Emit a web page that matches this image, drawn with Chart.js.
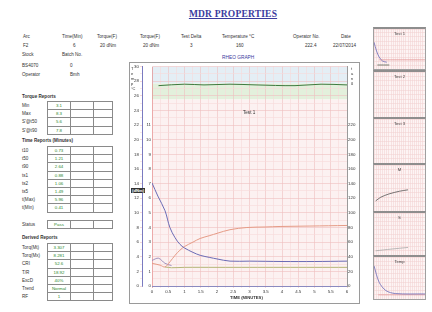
<!DOCTYPE html>
<html><head><meta charset="utf-8">
<script src="https://cdn.jsdelivr.net/npm/chart.js@4/dist/chart.umd.min.js"></script>
<style>
html,body{margin:0;padding:0;background:#fff;width:432px;height:312px;overflow:hidden;font-family:"Liberation Sans",Arial,sans-serif;}
.a{position:absolute;white-space:nowrap;font-size:4.6px;color:#333;line-height:5px;}
.b{font-weight:bold;}
.title{position:absolute;left:163px;top:9px;width:140px;white-space:nowrap;text-align:center;font-family:"Liberation Serif",serif;font-size:9.5px;font-weight:bold;color:#3b3b9e;text-decoration:underline;letter-spacing:0.2px;}
table.t{position:absolute;left:47px;border-collapse:collapse;width:66px;}
table.t td{border:0.8px solid #8a8a8a;height:7.2px;padding:0;font-size:4.4px;text-align:center;color:#2e8a2e;line-height:5px;}
.frame{position:absolute;border:1px solid #9a9a9a;}
.mini{position:absolute;left:373px;width:51px;border:1px solid #a0a0a0;border-top:2.5px solid #8e8e8e;}
.mini canvas{position:absolute;left:0;top:0;}
.mt{position:absolute;left:0;width:51px;top:2px;text-align:center;font-size:4.2px;color:#444;}
</style></head><body>
<div class="title">MDR PROPERTIES</div>
<div id="hdr"></div>
<div id="left"></div>
<div class="frame" style="left:129px;top:62px;width:229px;height:240px;"></div>
<div style="position:absolute;left:130px;top:63px;width:228px;height:238px;"><canvas id="main" width="228" height="238"></canvas></div>
<div class="a" style="left:222px;top:55px;color:#3b3b9e;font-size:4.8px;">RHEO GRAPH</div>
<div class="a" style="left:131px;top:66px;width:4px;white-space:normal;line-height:5px;font-size:4px;">T e m p °C</div>
<div class="a" style="left:351px;top:66px;width:4px;white-space:normal;line-height:5px;font-size:4px;">t a n δ</div>
<div class="a" style="left:243px;top:110px;font-size:4.6px;">Test 1</div>
<div class="a b" style="left:131px;top:188px;background:#333;color:#fff;font-size:4.2px;padding:0 1px;">(dNm)</div>
<div class="a b" style="left:230px;top:295px;font-size:4.2px;">TIME (MINUTES)</div>
<div id="minis"></div>
<script>
// ---------- DATA ----------
const headerLabels = ["Arc","Time(Min)","Torque(F)","Torque(F)","Test Delta","Temperature °C","Operator No.","Date"];
const headerValues = ["F2","6","20 dNm","20 dNm","3","160","222.4","22/07/2014"];
const infoLabels = ["Stock","Batch No."];
const stockInfo = [["BS4070","0"],["Operator","Bmh"]];
const torqueLabels = ["Min","Max","S'@t50","S'@t90"];
const torqueValues = ["3.1","8.3","5.6","7.8"];
const timeLabels = ["t10","t50","t90","ts1","ts2","ts5","t(Max)","t(Min)"];
const timeValues = ["0.73","1.21","2.64","0.88","1.06","1.49","5.96","0.41"];
const statusLabel = "Status";
const statusValue = "Pass";
const derivedLabels = ["Torq(Mt)","Torq(Mx)","CRI","T/R","ExcD","Trend","RF"];
const derivedValues = ["3.307","8.281","52.6","18.92","40%","Normal","1"];

const xTickLabels = ["0","0.5","1","1.5","2","2.5","3","3.5","4","4.5","5","5.5","6"];
const innerTickLabels = ["0","2","4","6","8","10","12","14","16","18","20","22","24","26","28","30"];
const outerTickLabels = ["0","1","2","3","4","5","6","7","8","9","10","11"];
const rightTickLabels = ["0","20","40","60","80","100","120","140","160","180","200","220"];

const blueTime   = [0,0.18,0.4,0.55,0.71,0.86,1.0,1.26,1.48,1.78,2.0,2.4,3.0,4.0,5.0,6.0];
const blueTorque = [14.1,12.3,10.3,8.0,6.6,5.7,5.2,4.6,4.2,3.9,3.7,3.4,3.4,3.35,3.35,3.4];
const redTime    = [0,0.25,0.4,0.55,0.71,0.86,1.0,1.26,1.48,1.78,2.0,2.4,2.92,3.48,3.94,4.86,6.0];
const redTorque  = [3.1,2.85,2.6,3.3,4.2,4.9,5.4,6.0,6.5,6.9,7.2,7.7,8.0,8.07,8.14,8.2,8.28];
const violetTime = [0,0.2,0.4,0.6];
const violetVal  = [3.5,3.8,3.1,2.8];
const oliveTime  = [0.4,0.6,1.0,2.0,3.0,4.0,5.0,6.0];
const oliveVal   = [2.6,2.5,2.55,2.55,2.55,2.55,2.55,2.55];
const tempTime   = [0.2,1.0,1.6,2.4,3.2,4.4,5.2,6.0];
const tempVal    = [27.4,27.6,27.5,27.6,27.5,27.4,27.6,27.5];

const miniTitles = ["Test 1","Test 2","Test 3","M","S","Temp"];
const miniSeries = [
  [{t:[0,0.3,0.6,1.0,1.5],v:[6.7,4.5,3.0,2.0,1.7],c:"#6a6ab8"},{t:[0.6,6],v:[2.3,2.3],c:"#e49a9a"},{t:[0.4,1.8],v:[1.0,1.0],c:"#556655"}],
  [],
  [],
  [{t:[0.2,0.8,1.75,3.0,4.0],v:[2.2,3.0,3.7,4.3,4.6],c:"#555"}],
  [{t:[0.2,2.0,4.0],v:[1.0,1.4,1.8],c:"#aaa"}],
  [{t:[0,0.6,1.4,2.5,6],v:[7.9,4.0,2.0,1.3,1.2],c:"#6a6ab8"},{t:[0.5,6],v:[1.0,1.0],c:"#e49a9a"}]
];

// ---------- LAYOUT (HTML text) ----------
const hx = [23,62,97,140,181,222,293,341];
let h = "";
headerLabels.forEach((l,i)=>{ h += `<div class="a" style="left:${hx[i]}px;top:34px;">${l}</div>`; });
const vx = [23,73,100,143,190,236,305,333];
headerValues.forEach((l,i)=>{ h += `<div class="a" style="left:${vx[i]}px;top:43px;">${l}</div>`; });
h += `<div class="a" style="left:22px;top:52px;">${infoLabels[0]}</div><div class="a" style="left:62px;top:52px;">${infoLabels[1]}</div>`;
stockInfo.forEach((r,i)=>{ h += `<div class="a" style="left:22px;top:${63+i*9}px;">${r[0]}</div><div class="a" style="left:70px;top:${63+i*9}px;">${r[1]}</div>`; });
document.getElementById('hdr').innerHTML = h;

function tbl(top, labels, values){
  let s = `<table class="t" style="top:${top}px;">`;
  labels.forEach((l,i)=>{ s += `<tr><td style="width:22px">${values[i]}</td><td style="width:22px"></td><td></td></tr>`; });
  s += `</table>`;
  labels.forEach((l,i)=>{ s += `<div class="a" style="left:22px;top:${top+2+i*8.2}px;">${l}</div>`; });
  return s;
}
let L = "";
L += `<div class="a b" style="left:22px;top:94px;">Torque Reports</div>`;
L += tbl(101, torqueLabels, torqueValues);
L += `<div class="a b" style="left:22px;top:138px;">Time Reports (Minutes)</div>`;
L += tbl(146, timeLabels, timeValues);
L += `<table class="t" style="top:220px;"><tr><td style="width:22px">${statusValue}</td><td style="width:22px"></td><td></td></tr></table>`;
L += `<div class="a" style="left:22px;top:222px;">${statusLabel}</div>`;
L += `<div class="a b" style="left:22px;top:235px;">Derived Reports</div>`;
L += tbl(243, derivedLabels, derivedValues);
document.getElementById('left').innerHTML = L;

// ---------- MAIN CHART ----------
const pts = (t,v)=>t.map((x,i)=>({x:x,y:v[i]}));
const bands = [{from:27.7,to:30,color:"#e4eef5"},{from:25.5,to:27.7,color:"#e3f0dc"},{from:0,to:25.5,color:"#fcf1f1"}];
const bandPlugin = {id:'bands',beforeDraw(c){
  const {ctx,chartArea:a,scales:{y}} = c;
  ctx.save();
  bands.forEach(b=>{ const y1=y.getPixelForValue(b.to), y2=y.getPixelForValue(b.from);
    ctx.fillStyle=b.color; ctx.fillRect(a.left,y1,a.right-a.left,y2-y1); });
  ctx.restore();
}};
const tickFont = {size:4.4,family:"Liberation Sans"};
new Chart(document.getElementById('main'),{
  type:'line',
  data:{datasets:[
    {data:pts(tempTime,tempVal),borderColor:"#3f7a3f",borderWidth:1},
    {data:pts(blueTime,blueTorque),borderColor:"#6b6bb5",borderWidth:1},
    {data:pts(redTime,redTorque),borderColor:"#e59b86",borderWidth:1},
    {data:pts(violetTime,violetVal),borderColor:"#8a7ab0",borderWidth:0.8},
    {data:pts(oliveTime,oliveVal),borderColor:"#b5b577",borderWidth:1}
  ]},
  options:{
    animation:false,responsive:false,
    layout:{padding:{top:2,right:0,left:0,bottom:0}},
    elements:{point:{radius:0},line:{tension:0.35}},
    plugins:{legend:{display:false},tooltip:{enabled:false}},
    scales:{
      x:{type:'linear',min:0,max:6,
        ticks:{stepSize:0.25,autoSkip:false,maxRotation:0,padding:1,font:tickFont,color:"#333",
          callback:(v,i)=> i%2===0 ? xTickLabels[i/2] : ''},
        grid:{color:(c)=> c.index===0 ? "#e07a7a" : (c.index%2===0 ? "#efc0c0":"#f6dada"),lineWidth:0.6,drawTicks:true,tickLength:2},
        border:{color:"#8a8ac0"},
        afterFit(s){s.height=15;}
      },
      y2:{position:'left',min:0,max:30,weight:0,
        ticks:{stepSize:2,autoSkip:false,padding:1,font:tickFont,color:"#333",
          callback:(v,i)=> i<outerTickLabels.length ? outerTickLabels[i] : ''},
        grid:{display:false,drawTicks:false,tickLength:0},border:{display:false},
        afterFit(s){s.width=10;}
      },
      y:{position:'left',min:0,max:30,weight:1,
        ticks:{stepSize:1,autoSkip:false,padding:1,font:tickFont,color:"#333",
          callback:(v,i)=> i%2===0 ? innerTickLabels[i/2] : ''},
        grid:{color:(c)=> c.index%2===0 ? "#efc0c0":"#f6dada",lineWidth:0.6,tickLength:2},
        border:{color:"#7a7ac0"},
        afterFit(s){s.width=12;}
      },
      y3:{position:'right',min:0,max:30,
        ticks:{stepSize:2,autoSkip:false,padding:1,font:tickFont,color:"#333",
          callback:(v,i)=> i<rightTickLabels.length ? rightTickLabels[i] : ''},
        grid:{display:false,drawTicks:false,tickLength:0},border:{color:"#9a9a9a"},
        afterFit(s){s.width=11;}
      }
    }
  },
  plugins:[bandPlugin]
});

// ---------- MINI CHARTS ----------
const miniTop = [27,70,117,163,211,255];
const miniH = [40,45,44,46,42,42];
let m = "";
miniTop.forEach((t,i)=>{ m += `<div class="mini" style="top:${t}px;height:${miniH[i]}px;"><canvas id="mc${i}" width="51" height="${miniH[i]}"></canvas><div class="mt">${miniTitles[i]}</div></div>`; });
document.getElementById('minis').innerHTML = m;
miniTop.forEach((t,i)=>{
  new Chart(document.getElementById('mc'+i),{
    type:'line',
    data:{datasets:miniSeries[i].map(s=>({data:pts(s.t,s.v),borderColor:s.c,borderWidth:0.8}))},
    options:{animation:false,responsive:false,
      layout:{padding:{top:0,left:0,right:0,bottom:0}},
      elements:{point:{radius:0},line:{tension:0.3}},
      plugins:{legend:{display:false},tooltip:{enabled:false}},
      scales:{
        x:{type:'linear',min:0,max:6,ticks:{display:false,stepSize:0.25},grid:{color:"#f1cfcf",lineWidth:0.5,drawTicks:false},border:{display:false}},
        y:{min:0,max:10,ticks:{display:false,stepSize:1},grid:{color:"#f1cfcf",lineWidth:0.5,drawTicks:false},border:{display:false}}
      }
    },
    plugins:[{id:'bg',beforeDraw(c){const a=c.chartArea;c.ctx.fillStyle="#fdf4f4";c.ctx.fillRect(a.left,a.top,a.right-a.left,a.bottom-a.top);}}]
  });
});
</script>
</body></html>
